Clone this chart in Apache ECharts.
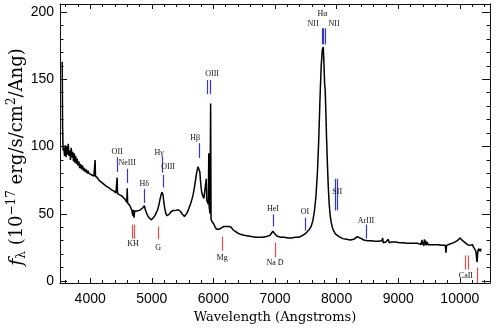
<!DOCTYPE html>
<html><head><meta charset="utf-8">
<script src="https://cdn.jsdelivr.net/npm/echarts@6/dist/echarts.min.js"></script>
<style>html,body{margin:0;padding:0;background:#fff}#c{width:497px;height:328px}</style>
</head><body><div id="c"></div>
<script>
// Spectrum: [wavelength (Angstrom), flux (1e-17 erg/s/cm^2/Ang)]
const spectrum = [
[3546,163],[3552,115],[3560,97],[3572,99],[3584,93],[3596,101],[3608,92],[3620,100],[3632,94],[3644,102],[3656,93],[3668,97],[3680,90],[3692,99],[3704,92],[3716,96],[3728,89],[3740,95],[3752,88],[3764,93],[3776,87],[3788,91],[3800,86],[3815,89],[3830,84],[3845,87],[3860,83],[3875,86],[3890,82],[3905,84],[3920,81],[3935,83],[3950,80],[3965,82],[3980,80],[4000,81],[4020,79],[4040,80],[4060,78],[4072,78.5],[4080,90],[4086,78],[4100,77],[4120,76.5],[4140,75],[4160,75.5],[4180,73.5],[4200,74],[4220,72],[4240,72.5],[4260,70.5],[4280,71],[4300,69.5],[4320,69.5],[4340,68],[4360,68.5],[4380,67],[4400,67],[4418,65.5],[4430,66],[4437,77],[4444,65],[4460,65.5],[4480,64],[4500,64.5],[4520,63],[4540,62.5],[4560,61],[4580,60],[4594,58.5],[4601,69],[4608,58],[4625,57.5],[4645,56],[4665,55],[4680,52],[4690,48.5],[4700,53],[4712,47],[4722,52],[4740,51],[4760,52],[4780,51.5],[4800,52.5],[4820,53],[4845,54],[4865,55],[4880,56],[4895,53],[4915,50.5],[4935,48.5],[4955,47],[4975,46],[4995,45.5],[5015,46],[5035,47.5],[5055,49],[5075,51],[5095,53],[5115,56.5],[5135,61],[5150,64],[5165,66],[5180,64.5],[5195,59],[5212,53.5],[5230,50],[5250,48.5],[5270,48.5],[5290,50],[5310,51.5],[5330,52],[5350,52.5],[5370,53],[5390,52.5],[5410,53.5],[5430,53],[5450,52],[5470,51.5],[5490,50],[5510,49],[5530,48],[5550,48.5],[5570,50.5],[5590,52.5],[5610,55],[5630,57.5],[5650,60.5],[5670,64],[5690,69],[5710,75],[5730,81],[5750,85],[5765,86],[5780,81],[5795,72],[5810,66],[5828,63],[5845,61.5],[5862,61],[5876,62.5],[5884,76],[5892,60],[5905,58.5],[5918,57],[5925,95],[5932,55],[5945,50],[5955,132],[5962,46],[5975,44.5],[5990,44],[6010,42],[6030,40],[6050,38.5],[6070,38],[6090,38.5],[6110,39],[6130,39.5],[6150,40],[6170,40.5],[6190,41],[6210,40.5],[6230,41],[6250,40.5],[6270,41],[6290,40],[6310,38.5],[6330,37.5],[6350,37],[6375,36],[6400,35.5],[6425,35],[6450,34.5],[6475,34.5],[6500,34],[6530,34.5],[6560,33.5],[6590,34],[6620,33],[6650,33.5],[6680,32.5],[6710,33],[6740,32.5],[6770,33],[6800,32.5],[6830,33],[6860,33],[6890,33.5],[6920,34],[6945,35],[6965,37],[6980,36],[7000,35],[7030,33.5],[7060,33],[7090,32.5],[7120,32],[7150,32.5],[7180,31.5],[7210,32],[7240,32.5],[7270,32],[7300,33],[7330,32.5],[7360,33],[7390,32.5],[7420,33.5],[7450,34],[7480,34.5],[7500,35.5],[7530,36.5],[7560,38.5],[7590,41],[7615,45],[7640,52],[7665,63],[7690,82],[7710,105],[7730,135],[7750,160],[7768,172],[7784,174],[7796,160],[7806,146],[7814,143],[7824,128],[7836,108],[7850,88],[7865,70],[7880,57],[7895,49],[7910,44],[7930,40],[7955,37],[7980,35],[8010,34],[8040,33],[8070,32],[8100,31.5],[8130,31.5],[8160,31],[8190,31],[8220,30.5],[8250,31],[8280,31],[8310,32],[8335,33],[8355,33],[8380,32],[8410,31],[8440,30.5],[8470,30],[8500,30],[8530,29.5],[8560,30],[8590,29.5],[8620,29.5],[8650,29],[8680,29.5],[8710,29],[8735,30],[8748,32],[8756,28.5],[8775,29.5],[8800,29],[8825,29],[8840,31],[8852,28.5],[8875,29],[8900,29],[8930,28.5],[8960,29],[8990,28.5],[9020,28.5],[9050,28],[9080,28.5],[9110,28],[9140,28],[9170,28.5],[9200,28],[9230,27.5],[9260,28],[9290,27.5],[9320,28],[9350,28],[9370,27],[9385,30.5],[9395,27],[9405,29],[9415,26],[9425,31],[9435,27],[9445,30],[9455,26.5],[9470,29],[9485,27],[9500,28],[9530,27],[9560,27.5],[9590,27],[9620,27.5],[9650,27],[9680,27],[9710,26.5],[9740,27],[9765,26.5],[9775,21],[9785,26.5],[9810,27],[9840,27.5],[9870,28],[9900,28.5],[9930,29],[9960,30],[9985,31],[10005,32],[10025,31],[10045,30],[10065,29],[10085,28.5],[10105,28],[10125,27],[10145,27.5],[10165,26.5],[10185,26],[10205,27],[10225,25],[10245,24],[10262,22],[10272,17],[10280,14],[10290,21],[10305,24],[10320,25],[10335,22],[10342,24]
];

// Emission line markers: [wavelength, flux bottom, flux top]
const emissionMarks = [
[4438,81,92],[4600,73,83.5],[4876,58,68.5],[5168,80.5,92.5],[5184,69.5,79],[5768,91.5,102.5],
[5898,139,149.5],[5946,139,149.5],[7763,176,188],[7787,176,188],[7812,176,188],
[6968,40.5,49.5],[7487,37.5,47],[7974,52.5,76],[8006,52.5,76],[8477,31.5,42]
];
// Emission labels: [wavelength, flux, text]
const emissionLabels = [
[4438,96,'OII'],[4600,87.5,'NeIII'],[4876,72.5,'H\u03b4'],[5119,95.5,'H\u03b3'],[5265,85,'OIII'],
[5703,106.5,'H\u03b2'],[5979,154,'OIII'],[7770,198.5,'H\u03b1'],[7617,191.5,'NII'],[7958,191.5,'NII'],
[6968,53.5,'HeI'],[7487,51.5,'OI'],[8010,66,'SII'],[8477,45,'ArIII']
];
// Absorption line markers
const absorptionMarks = [
[4681,31.5,42],[4714,31.5,42],[5103,31,40.5],[6141,22.5,33],[7001,17.5,28.5],
[10083,8.5,19],[10131,8.5,19],[10277,-1.5,10]
];
const absorptionLabels = [
[4697,27.5,'KH'],[5103,24.5,'G'],[6141,17.5,'Mg'],[7001,13.5,'Na D'],[10099,4,'CaII']
];

const xLabelTicks = [4000,5000,6000,7000,8000,9000,10000];
const xMinorTicks = [3600,3800,4200,4400,4600,4800,5200,5400,5600,5800,6200,6400,6600,6800,7200,7400,7600,7800,8200,8400,8600,8800,9200,9400,9600,9800,10200,10400];
const yLabelTicks = [0,50,100,150,200];
const yMinorTicks = [10,20,30,40,60,70,80,90,110,120,130,140,160,170,180,190];

const xTitle = 'Wavelength (Angstroms)';
const yTitle = '{i|f}{sub|\u03bb} (10{sup|\u221217} erg/s/cm{sup|2}/Ang)';

const X_MIN = 3510, X_MAX = 10490, Y_MIN = -1.5, Y_MAX = 206;

const chart = echarts.init(document.getElementById('c'), null, {renderer:'canvas'});
const black = '#111';
const gridRect = {left:60, right:7, top:4, bottom:45, containLabel:false, outerBoundsMode:'none'};

function xAx(gridIndex, pos, ticks, len, withLine, withLabel) {
  const a = {
    type:'value', gridIndex, position:pos, min:X_MIN, max:X_MAX,
    axisLine:{show:withLine, onZero:false, lineStyle:{color:black, width:1}},
    axisTick:{show:true, inside:true, length:len, customValues:ticks, lineStyle:{color:black, width:1}},
    axisLabel:{show:withLabel, customValues:xLabelTicks, color:'#000', fontSize:14, fontFamily:'Liberation Sans', margin:9,
      formatter:function(v){return String(v);}},
    splitLine:{show:false}
  };
  if (withLabel) {
    a.name = xTitle;
    a.nameLocation = 'middle';
    a.nameGap = 26;
    a.nameTextStyle = {fontFamily:'DejaVu Serif', fontSize:13, color:'#000'};
  }
  return a;
}
function yAx(gridIndex, pos, ticks, len, withLine, withLabel) {
  return {
    type:'value', gridIndex, position:pos, min:Y_MIN, max:Y_MAX,
    axisLine:{show:withLine, onZero:false, lineStyle:{color:black, width:1}},
    axisTick:{show:true, inside:true, length:len, customValues:ticks, lineStyle:{color:black, width:1}},
    axisLabel:{show:withLabel, customValues:yLabelTicks, color:'#000', fontSize:14, fontFamily:'Liberation Sans', margin:6},
    splitLine:{show:false}
  };
}

function lineRenderer(marks, color) {
  return function(params, api) {
    const m = marks[params.dataIndex];
    const p1 = api.coord([m[0], m[1]]);
    const p2 = api.coord([m[0], m[2]]);
    const x = Math.round(p1[0]) + 0.5;
    return {type:'line', shape:{x1:x, y1:p1[1], x2:x, y2:p2[1]}, style:{stroke:color, lineWidth:1.2}};
  };
}
function textRenderer(labels) {
  return function(params, api) {
    const l = labels[params.dataIndex];
    const p = api.coord([l[0], l[1]]);
    return {type:'text', x:p[0], y:p[1], style:{text:l[2], fill:'#111', font:'8px "Liberation Serif"', align:'center', verticalAlign:'middle'}};
  };
}

chart.setOption({
  animation:false,
  backgroundColor:'#fff',
  grid:[Object.assign({}, gridRect), Object.assign({}, gridRect)],
  xAxis:[
    xAx(0,'bottom',xLabelTicks,5,true,true),
    xAx(0,'top',xLabelTicks,5,true,false),
    xAx(1,'bottom',xMinorTicks,3,false,false),
    xAx(1,'top',xMinorTicks,3,false,false)
  ],
  yAxis:[
    yAx(0,'left',yLabelTicks,7,true,true),
    yAx(0,'right',yLabelTicks,8,true,false),
    yAx(1,'left',yMinorTicks,3.5,false,false),
    yAx(1,'right',yMinorTicks,3.5,false,false)
  ],
  graphic:[{
    type:'text', x:17, y:157, rotation:Math.PI/2,
    style:{text:yTitle, fill:'#000', fontFamily:'DejaVu Serif', fontSize:18, align:'center', verticalAlign:'middle',
      rich:{
        i:{fontFamily:'DejaVu Serif', fontStyle:'italic', fontSize:19, fill:'#000'},
        sub:{fontFamily:'DejaVu Serif', fontSize:12, fill:'#000', padding:[9,0,0,0]},
        sup:{fontFamily:'DejaVu Serif', fontSize:12, fill:'#000', padding:[0,0,10,0]}
      }}
  }],
  series:[
    {type:'line', xAxisIndex:0, yAxisIndex:0, data:spectrum, showSymbol:false, symbol:'none',
     lineStyle:{color:'#000', width:1.5}, z:3},
    {type:'custom', xAxisIndex:0, yAxisIndex:0, data:emissionMarks, renderItem:lineRenderer(emissionMarks,'#3434d4'), z:4},
    {type:'custom', xAxisIndex:0, yAxisIndex:0, data:absorptionMarks, renderItem:lineRenderer(absorptionMarks,'#e64c4c'), z:4},
    {type:'custom', xAxisIndex:0, yAxisIndex:0, data:emissionLabels.map(l=>[l[0],l[1]]), renderItem:textRenderer(emissionLabels), z:5},
    {type:'custom', xAxisIndex:0, yAxisIndex:0, data:absorptionLabels.map(l=>[l[0],l[1]]), renderItem:textRenderer(absorptionLabels), z:5}
  ]
});
</script></body></html>
